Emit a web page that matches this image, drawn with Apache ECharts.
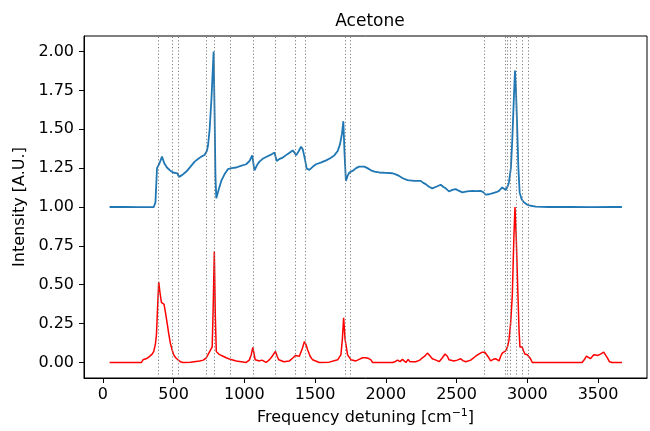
<!DOCTYPE html>
<html>
<head>
<meta charset="utf-8">
<script src="https://cdn.jsdelivr.net/npm/echarts@6/dist/echarts.min.js"></script>
<style>html,body{margin:0;padding:0;background:#fff}#c{width:650px;height:431px}</style>
</head>
<body>
<div id="c"></div>
<script>
const blueX = [48,150,250,360,372,383,400,418,435,453,475,496,527,538,560,590,620,649,675,696,719,735,743,755,768,783,790,796,802,815,837,860,884,910,943,975,1013,1037,1056,1066,1072,1090,1107,1130,1154,1185,1213,1222,1229,1250,1272,1305,1342,1355,1366,1385,1401,1413,1428,1441,1460,1485,1507,1540,1578,1610,1636,1660,1676,1690,1700,1708,1718,1730,1742,1765,1790,1812,1848,1870,1895,1920,1953,2000,2047,2070,2094,2120,2153,2200,2247,2265,2282,2305,2329,2360,2388,2405,2423,2447,2470,2494,2515,2541,2575,2612,2640,2670,2690,2705,2730,2752,2780,2800,2823,2847,2860,2870,2884,2894,2905,2913,2920,2929,2937,2946,2960,2976,3000,3023,3060,3150,3300,3450,3600,3669];
const blueY = [1.0,1.001,0.999,1.0,1.03,1.25,1.28,1.324,1.28,1.254,1.235,1.222,1.217,1.194,1.205,1.228,1.26,1.292,1.31,1.324,1.335,1.36,1.392,1.50,1.70,2.0,1.6,1.2,1.056,1.10,1.168,1.21,1.243,1.25,1.254,1.265,1.275,1.296,1.332,1.27,1.236,1.27,1.292,1.31,1.322,1.335,1.35,1.32,1.296,1.31,1.318,1.34,1.364,1.35,1.332,1.36,1.388,1.371,1.31,1.247,1.239,1.26,1.275,1.285,1.30,1.315,1.332,1.36,1.403,1.47,1.552,1.35,1.168,1.2,1.222,1.232,1.25,1.26,1.26,1.25,1.236,1.228,1.222,1.22,1.217,1.21,1.20,1.185,1.173,1.168,1.168,1.155,1.147,1.13,1.12,1.132,1.143,1.13,1.12,1.10,1.11,1.115,1.105,1.094,1.1,1.104,1.102,1.104,1.095,1.079,1.082,1.088,1.095,1.104,1.126,1.109,1.13,1.158,1.25,1.435,1.7,1.878,1.75,1.499,1.25,1.094,1.05,1.03,1.015,1.008,1.003,1.0,1.001,0.999,1.0,1.0];
const redX = [48,273,284,310,331,350,360,372,379,387,395,404,414,433,443,453,465,477,490,501,515,531,548,566,620,684,710,731,755,773,780,788,795,802,825,850,872,900,943,1013,1035,1049,1060,1068,1077,1107,1125,1154,1180,1197,1220,1232,1244,1280,1319,1345,1361,1389,1410,1425,1436,1448,1465,1483,1530,1600,1660,1683,1693,1702,1712,1730,1754,1789,1812,1835,1859,1880,1895,1906,2047,2065,2083,2100,2118,2130,2142,2158,2170,2212,2240,2259,2275,2294,2310,2329,2355,2377,2400,2419,2435,2447,2482,2505,2530,2545,2565,2600,2635,2660,2682,2700,2713,2728,2741,2760,2776,2790,2800,2812,2823,2847,2860,2870,2882,2894,2905,2913,2922,2934,2942,2948,2956,2964,2973,2983,3000,3011,3022,3035,3387,3405,3418,3432,3446,3458,3470,3485,3500,3520,3540,3552,3566,3580,3600,3669];
const redY = [0,0,0.017,0.025,0.039,0.055,0.071,0.12,0.177,0.35,0.518,0.45,0.386,0.373,0.32,0.263,0.19,0.124,0.08,0.049,0.03,0.017,0.005,0,0.002,0.01,0.015,0.03,0.07,0.1,0.35,0.714,0.3,0.07,0.05,0.04,0.03,0.02,0.01,0,0.015,0.05,0.097,0.06,0.017,0.01,0.015,0,0.02,0.04,0.071,0.04,0.017,0.005,0.01,0.03,0.045,0.04,0.09,0.135,0.115,0.08,0.04,0.017,0,0.002,0.017,0.05,0.15,0.288,0.15,0.049,0.017,0.01,0.02,0.03,0.03,0.025,0.017,0,0,0.005,0.015,0.005,0.02,0.01,0,0.02,0.005,0.005,0.015,0.03,0.04,0.06,0.045,0.024,0.015,0.005,0.03,0.054,0.04,0.017,0.01,0.015,0.024,0.012,0.005,0.015,0.04,0.055,0.066,0.066,0.054,0.03,0.01,0.02,0.024,0.015,0.01,0.04,0.06,0.075,0.1,0.14,0.25,0.43,0.8,1.0,0.8,0.43,0.2,0.1,0.095,0.1,0.075,0.054,0.05,0.05,0.025,0,0,0.02,0.04,0.035,0.024,0.035,0.05,0.048,0.045,0.055,0.066,0.06,0.03,0.005,0,0];
const vlines = [395,493,530,733,788,903,1066,1220,1358,1432,1712,1746,2699,2847,2859,2877,2921,2965,3004];
const xTicks = [0,500,1000,1500,2000,2500,3000,3500];
const yTicks = [0,0.25,0.5,0.75,1.0,1.25,1.5,1.75,2.0];

const zip = (a,b) => a.map((v,i)=>[v,b[i]]);
const FONT = 'DejaVu Sans';
const chart = echarts.init(document.getElementById('c'), null, {renderer:'canvas'});
chart.setOption({
  animation:false,
  backgroundColor:'#fff',
  textStyle:{fontFamily:FONT},
  title:{text:'Acetone', left:365, top:8, textAlign:'center',
    textStyle:{fontFamily:FONT, fontSize:17, fontWeight:'normal', color:'#000'}},
  grid:{left:84, right:3, top:36, bottom:51, show:true, borderColor:'#000', borderWidth:1, backgroundColor:'transparent'},
  xAxis:{type:'value', min:-133, max:3846,
    name:'Frequency detuning [cm{sup|−1}]', nameLocation:'middle', nameGap:30,
    nameTextStyle:{fontFamily:FONT, fontSize:16, color:'#000', rich:{sup:{fontFamily:FONT, fontSize:11, color:'#000', padding:[0,0,9,0]}}},
    axisLine:{show:true, onZero:false, lineStyle:{color:'#000', width:1}},
    axisTick:{show:true, length:5, customValues:xTicks, lineStyle:{color:'#000'}},
    axisLabel:{customValues:xTicks, margin:9, fontFamily:FONT, fontSize:16, color:'#000', formatter:v=>String(v)},
    splitLine:{show:false}},
  yAxis:{type:'value', min:-0.1, max:2.1,
    name:'Intensity [A.U.]', nameLocation:'middle', nameGap:51,
    nameTextStyle:{fontFamily:FONT, fontSize:16, color:'#000'},
    axisLine:{show:true, onZero:false, lineStyle:{color:'#000', width:1}},
    axisTick:{show:true, length:5, customValues:yTicks, lineStyle:{color:'#000'}},
    axisLabel:{customValues:yTicks, margin:10, fontFamily:FONT, fontSize:16, color:'#000', formatter:v=>v.toFixed(2)},
    splitLine:{show:false}},
  series:[
    {type:'line', data:zip(blueX,blueY), showSymbol:false, symbol:'none', lineStyle:{color:'#1f77b4', width:1.8}, z:3,
      markLine:{silent:true, symbol:['none','none'], label:{show:false}, animation:false,
        lineStyle:{color:'#808080', type:[1.2,2.2], width:1}, emphasis:{disabled:true},
        data:vlines.map(v=>({xAxis:v}))}},
    {type:'line', data:zip(redX,redY), showSymbol:false, symbol:'none', lineStyle:{color:'#ff0000', width:1.5}, z:3}
  ]
});
</script>
</body>
</html>
